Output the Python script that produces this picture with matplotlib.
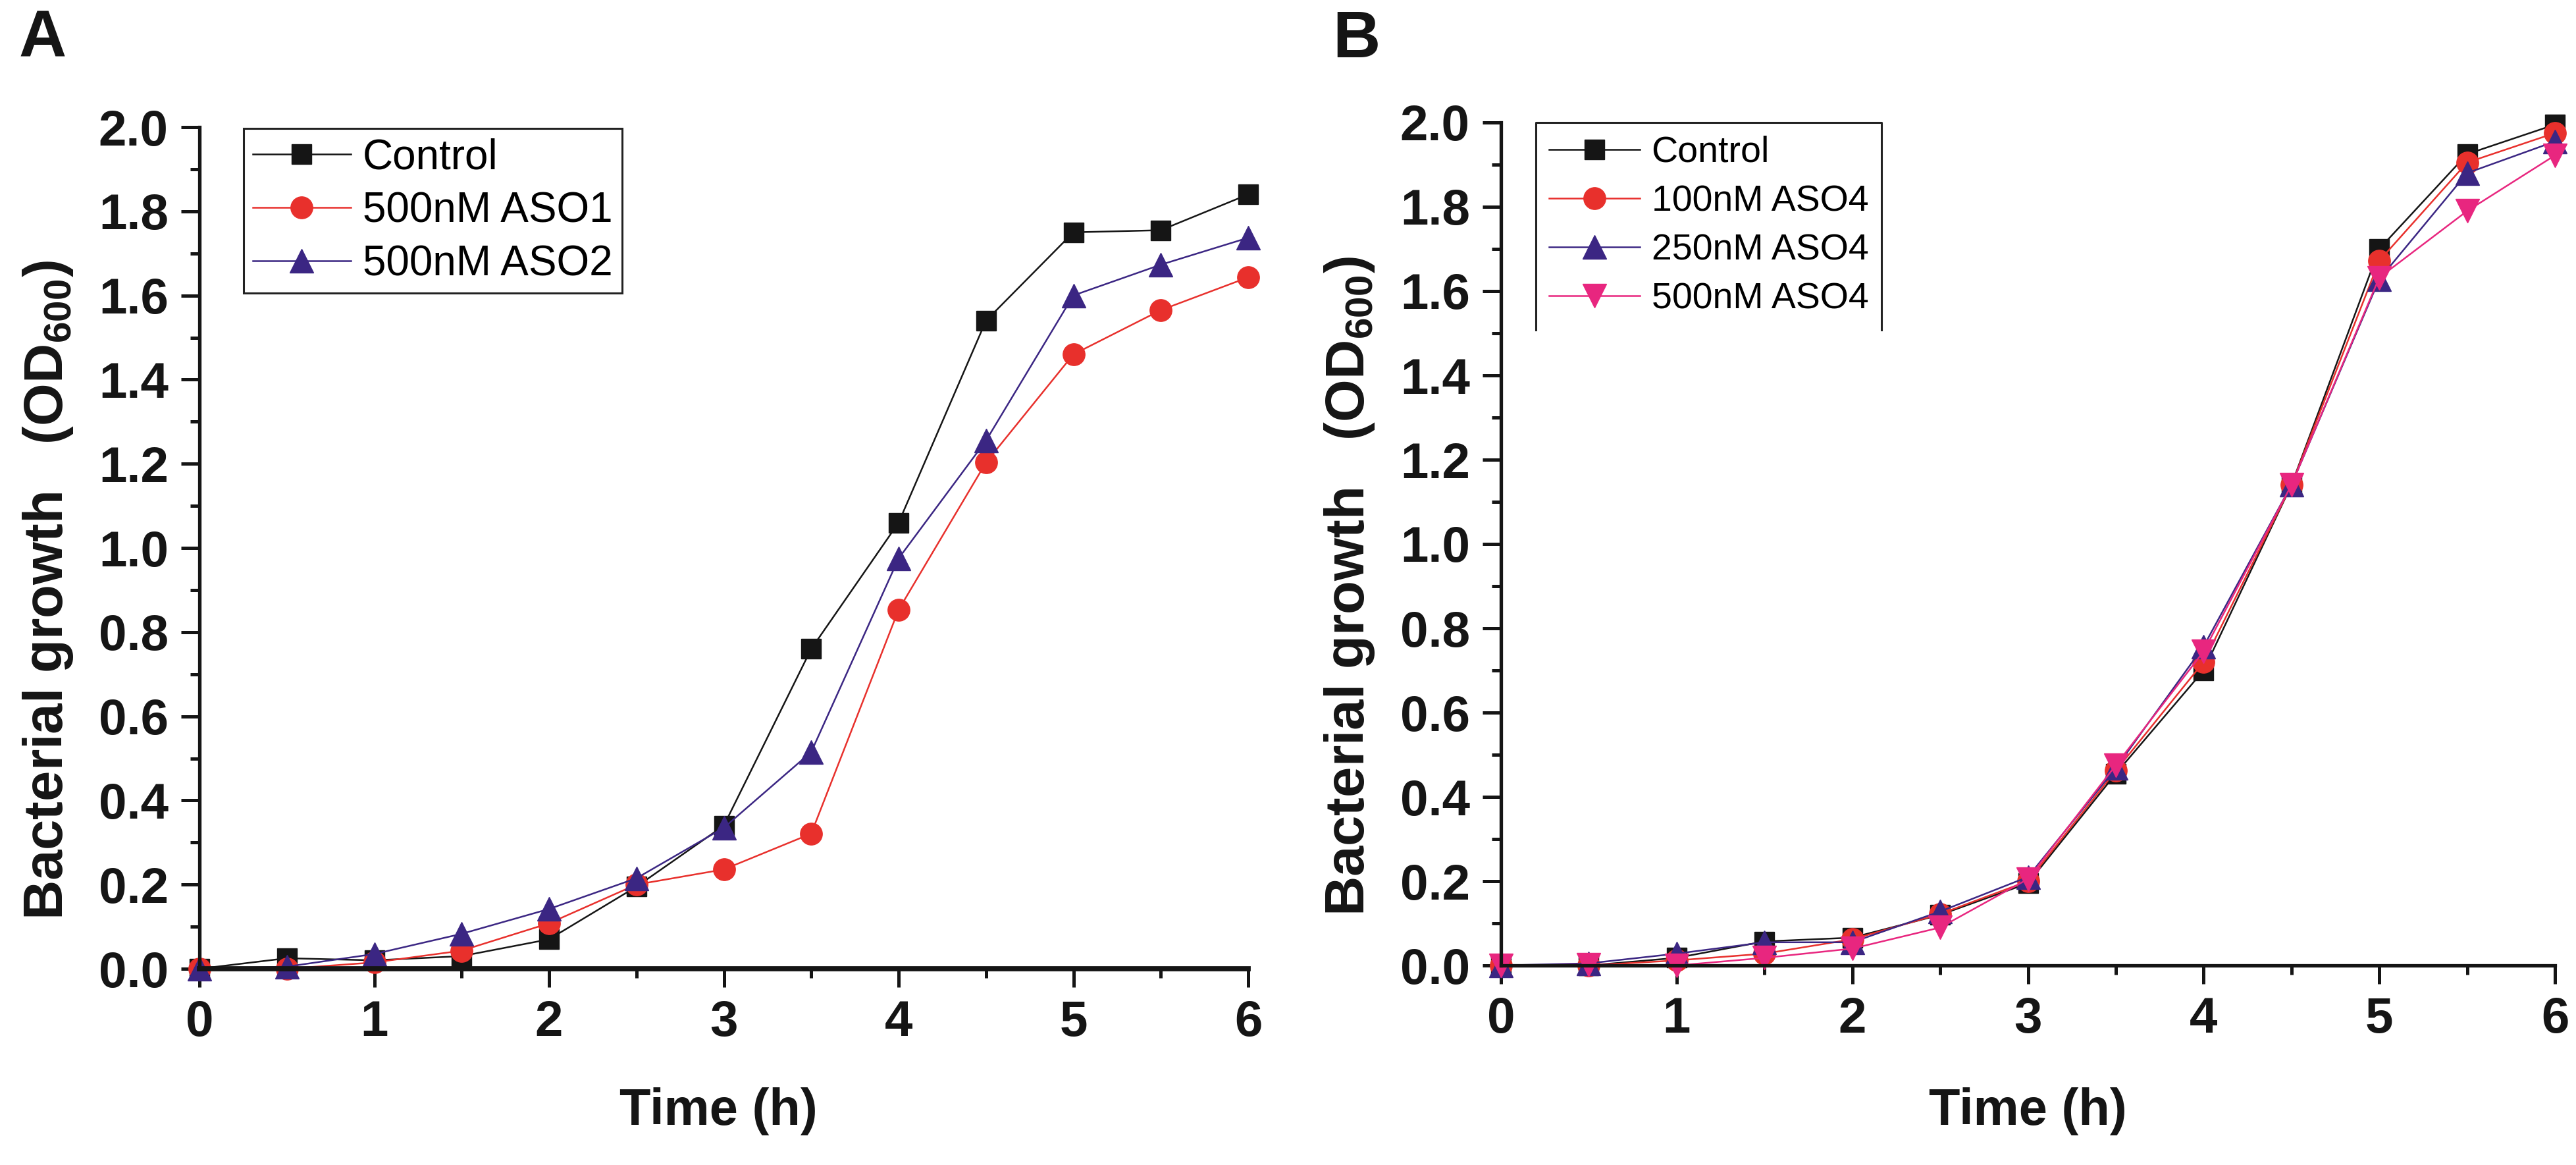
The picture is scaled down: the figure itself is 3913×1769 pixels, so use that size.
import matplotlib
matplotlib.use("Agg")
import matplotlib.pyplot as plt
from matplotlib.ticker import MultipleLocator, FormatStrFormatter
from matplotlib.lines import Line2D

plt.rcParams['font.family'] = ['Liberation Sans', 'DejaVu Sans']
plt.rcParams['mathtext.fontset'] = 'custom'
plt.rcParams['mathtext.rm'] = 'Liberation Sans'
plt.rcParams['mathtext.bf'] = 'Liberation Sans:bold'

# ---------------- data ----------------
time_h = [0, 0.5, 1, 1.5, 2, 2.5, 3, 3.5, 4, 4.5, 5, 5.5, 6]

# Panel A
labels_A = ["Control", "500nM ASO1", "500nM ASO2"]
control_A = [0.0, 0.025, 0.02, 0.03, 0.07, 0.195, 0.34, 0.76, 1.06, 1.54, 1.75, 1.755, 1.84]
aso1_A = [0.0, 0.0, 0.015, 0.043, 0.108, 0.20, 0.236, 0.321, 0.853, 1.203, 1.46, 1.565, 1.643]
aso2_A = [0.0, 0.005, 0.035, 0.083, 0.142, 0.215, 0.335, 0.515, 0.975, 1.255, 1.60, 1.673, 1.737]

# Panel B
labels_B = ["Control", "100nM ASO4", "250nM ASO4", "500nM ASO4"]
control_B = [0.0, 0.0, 0.018, 0.057, 0.066, 0.12, 0.195, 0.455, 0.70, 1.14, 1.70, 1.925, 1.995]
aso4_100 = [0.0, 0.0, 0.012, 0.028, 0.062, 0.122, 0.20, 0.462, 0.72, 1.14, 1.672, 1.905, 1.975]
aso4_250 = [0.0, 0.005, 0.028, 0.055, 0.055, 0.128, 0.21, 0.468, 0.757, 1.14, 1.628, 1.88, 1.955]
aso4_500 = [0.0, 0.002, 0.0, 0.018, 0.04, 0.09, 0.205, 0.475, 0.745, 1.14, 1.632, 1.79, 1.922]

x_ticks = [0, 1, 2, 3, 4, 5, 6]
xlabel = "Time (h)"
ylabel = r"Bacterial growth   (OD$_{\mathbf{600}}$)"

# ---------------- style ----------------
BLACK = "#151515"
RED = "#e8302c"
PURPLE = "#3b2683"
MAGENTA = "#e8267f"

W, H = 3913, 1769
DPI = 200
fig = plt.figure(figsize=(W / DPI, H / DPI), dpi=DPI)

axA = fig.add_axes([303 / W, 1 - 1471 / H, 1593 / W, 1278 / H])
axB = fig.add_axes([2280 / W, 1 - 1466 / H, 1601 / W, 1280 / H])


def style_axis(ax, bottom_lw):
    ax.set_xlim(0, 6)
    ax.set_ylim(0, 2.0)
    ax.spines['top'].set_visible(False)
    ax.spines['right'].set_visible(False)
    ax.spines['left'].set_linewidth(1.9)
    ax.spines['bottom'].set_linewidth(bottom_lw)
    ax.spines['left'].set_color(BLACK)
    ax.spines['bottom'].set_color(BLACK)
    ax.set_xticks(x_ticks)
    ax.xaxis.set_minor_locator(MultipleLocator(0.5))
    ax.yaxis.set_major_locator(MultipleLocator(0.2))
    ax.yaxis.set_minor_locator(MultipleLocator(0.1))
    ax.yaxis.set_major_formatter(FormatStrFormatter('%.1f'))
    ax.tick_params(which='major', direction='out', length=10, width=1.8,
                   color=BLACK, labelsize=27.5, pad=7)
    ax.tick_params(which='minor', direction='out', length=5, width=1.8, color=BLACK)
    for lab in ax.get_xticklabels() + ax.get_yticklabels():
        lab.set_fontweight('bold')
        lab.set_color(BLACK)


style_axis(axA, 2.8)
style_axis(axB, 1.9)

common = dict(lw=0.9, clip_on=False, markeredgewidth=0.5)

# Panel A
axA.plot(time_h, control_A, color=BLACK, marker='s', ms=10.5, mec=BLACK, label=labels_A[0], **common)
axA.plot(time_h, aso1_A, color=RED, marker='o', ms=12, mec=RED, label=labels_A[1], **common)
axA.plot(time_h, aso2_A, color=PURPLE, marker='^', ms=13, mec=PURPLE, label=labels_A[2], **common)

# Panel B
axB.plot(time_h, control_B, color=BLACK, marker='s', ms=10.5, mec=BLACK, label=labels_B[0], **common)
axB.plot(time_h, aso4_100, color=RED, marker='o', ms=12, mec=RED, label=labels_B[1], **common)
axB.plot(time_h, aso4_250, color=PURPLE, marker='^', ms=13, mec=PURPLE, label=labels_B[2], **common)
axB.plot(time_h, aso4_500, color=MAGENTA, marker='v', ms=13, mec=MAGENTA, label=labels_B[3], **common)

# axis labels
for ax, xl_x, xl_y, yl_x in [(axA, 0.495, -0.1854, -0.1306), (axB, 0.5, -0.189, -0.130)]:
    ax.set_xlabel(xlabel, fontsize=28, fontweight='bold', color=BLACK, va='baseline')
    ax.xaxis.set_label_coords(xl_x, xl_y)
    ax.set_ylabel(ylabel, fontsize=30, fontweight='bold', color=BLACK, va='baseline')
    ax.yaxis.set_label_coords(yl_x, 0.45)

# panel letters
fig.text(29 / W, 1 - 87 / H, "A", fontsize=36, fontweight='bold', color=BLACK,
         ha='left', va='baseline')
fig.text(2024 / W, 1 - 87 / H, "B", fontsize=36, fontweight='bold', color=BLACK,
         ha='left', va='baseline')

# legends
legA = axA.legend(loc='upper left', bbox_to_anchor=(370 / W, 1 - 195 / H),
                  bbox_transform=fig.transFigure, borderaxespad=0, fontsize=23,
                  frameon=True, fancybox=False, edgecolor='#222222', framealpha=1,
                  borderpad=0.22, labelspacing=0.33, handlelength=2.33,
                  handletextpad=0.28)
legA.get_frame().set_linewidth(1.1)

legB = axB.legend(loc='upper left', bbox_to_anchor=(2333 / W, 1 - 186 / H),
                  bbox_transform=fig.transFigure, borderaxespad=0, fontsize=20,
                  frameon=True, fancybox=False, edgecolor='#222222', framealpha=1,
                  borderpad=0.36, labelspacing=0.40, handlelength=2.48,
                  handletextpad=0.32)
legB.get_frame().set_linewidth(1.1)

# Panel B legend box is open at the bottom in the original: redraw its frame
fig.canvas.draw()
bb = legB.get_window_extent().transformed(fig.transFigure.inverted())
legB.get_frame().set_visible(False)
fig.add_artist(Line2D([bb.x0, bb.x0, bb.x1, bb.x1], [bb.y0, bb.y1, bb.y1, bb.y0],
                      transform=fig.transFigure, color='#222222', lw=1.1))

fig.savefig("out.png", dpi=DPI, facecolor='white')
